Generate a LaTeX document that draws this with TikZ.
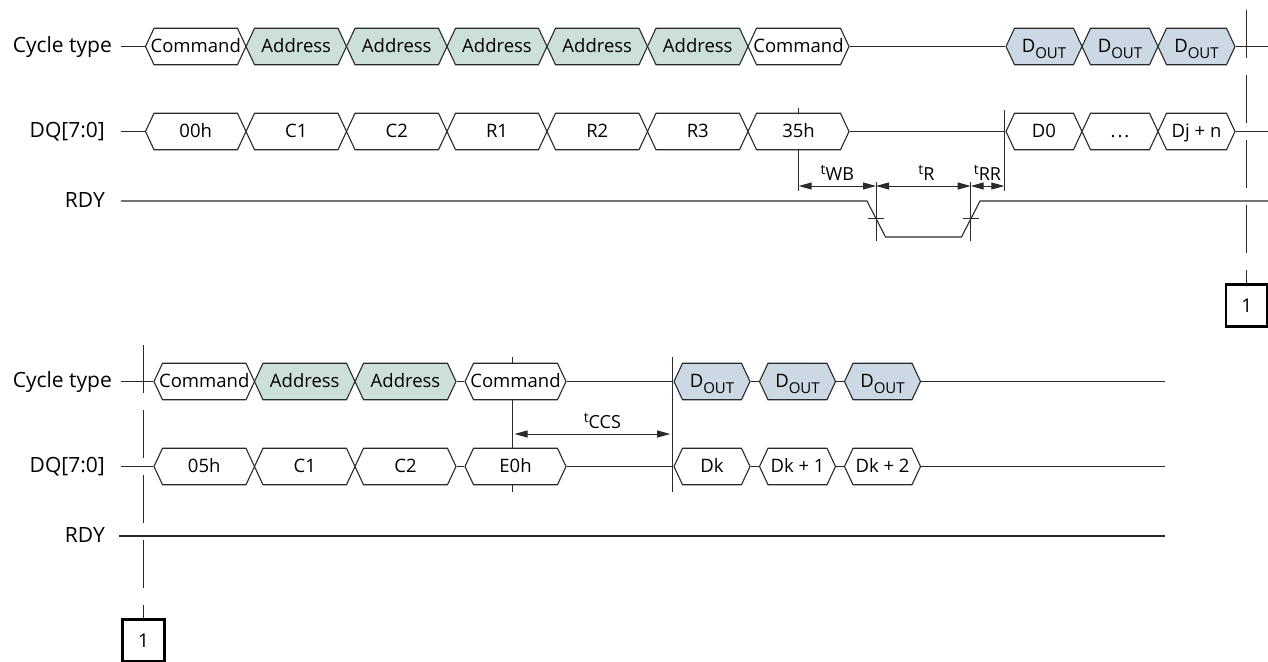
\documentclass[tikz,border=0pt]{standalone}
\usepackage{fontspec}
\setmainfont{Open Sans}
\usetikzlibrary{arrows.meta,shapes.symbols}
\definecolor{addrfill}{HTML}{CCDFDB}
\definecolor{doutfill}{HTML}{CCD9E4}
\definecolor{inkline}{HTML}{2A2A2A}
\newcommand{\dout}{D\raisebox{-6pt}{\fontsize{15}{15}\selectfont OUT}}
\newcommand{\tparam}[1]{\raisebox{5.5pt}{\fontsize{14}{14}\selectfont t}#1}
\tikzset{
  busbox/.style={signal, signal to=west and east, signal pointer angle=130, draw=inkline, line width=1.1pt,
    inner sep=0pt, minimum height=36.5pt, text height=11.6pt, text depth=0pt, font=\fontsize{18.5}{19}\selectfont},
  siglabel/.style={anchor=east, inner ysep=0pt, text height=12pt, text depth=0pt, font=\fontsize{21}{22}\selectfont},
  sigline/.style={draw=inkline, line width=1.1pt},
  markline/.style={draw=inkline, line width=1pt},
  timing/.style={draw=inkline, line width=1pt, {Triangle[length=13pt,width=7pt]}-{Triangle[length=13pt,width=7pt]}},
  timelabel/.style={anchor=base, yshift=6pt, inner sep=0pt, font=\fontsize{18}{19}\selectfont},
  guide/.style={draw=inkline, line width=1pt, dash pattern=on 48pt off 17pt},
  notebox/.style={draw=black, line width=2.6pt, minimum width=41.5pt, minimum height=42.5pt, inner sep=0pt, font=\fontsize{19}{20}\selectfont}
}
\begin{document}
\begin{tikzpicture}[x=1pt,y=-1pt]
  \useasboundingbox (0,0) rectangle (1268,661);

  % first sequence: markers that sit behind the bus
  \draw[markline] (798.7,107.5) coordinate (rtick) -- (798.7,191) coordinate (rbot);

  % first sequence: bus rows
  \foreach \nm/\xa/\xb/\fl/\txt in {
      ca/145.5/246/white/Command, cb/246/346.5/addrfill/Address, cc/346.5/447/addrfill/Address,
      cd/447/547/addrfill/Address, ce/547/647.5/addrfill/Address, cf/647.5/748/addrfill/Address,
      cg/748/849/white/Command, ch/1006/1082/doutfill/\dout, ci/1082/1158/doutfill/\dout, cj/1158/1235/doutfill/\dout} {
    \node[busbox, fill=\fl, minimum width={(\xb-\xa)*1pt}] (\nm) at ({(\xa+\xb)/2},46.5) {\makebox[0pt]{\txt}};
  }
  \foreach \nm/\xa/\xb/\txt in {
      da/145.5/246/00h, db/246/346.5/C1, dc/346.5/447/C2, dd/447/547/R1, de/547/647.5/R2, df/647.5/748/R3,
      dg/748/849/35h, dh/1006/1082/D0, di/1082/1158/.\kern2pt.\kern2pt., dj/1158/1235/Dj + n} {
    \node[busbox, fill=white, minimum width={(\xb-\xa)*1pt}] (\nm) at ({(\xa+\xb)/2},131.5) {\makebox[0pt]{\txt}};
  }

  % first sequence: signal names and wires
  \node[siglabel, inner xsep=9pt] (cyclea) at (121,46.5) {Cycle type};
  \node[siglabel, inner xsep=16pt] (dqa) at (121,131.5) {DQ[7:0]};
  \node[siglabel, inner xsep=16pt] (rdya) at (121,201) {RDY};
  \coordinate (cend) at (1268,46.5);
  \coordinate (dend) at (1268,131.5);
  \draw[sigline] (cyclea.east) -- (ca.west);
  \draw[sigline] (dqa.east) -- (da.west);
  \draw[sigline] (cg.east) -- (ch.west);
  \draw[sigline] (dg.east) -- (dh.west);
  \draw[sigline] (cj.east) -- (cend);
  \draw[sigline] (dj.east) -- (dend);
  \draw[sigline] (rdya.east) -- (867,201) -- (885.5,237) -- (961.5,237) -- (980,201) -- (1268,201);

  % first sequence: timing
  \draw[markline] (1004.3,110) coordinate (dtop) -- (1004.3,191) coordinate (dbot);
  \draw[markline] (876,182) coordinate (wtop) -- (876,241);
  \draw[markline] (970.7,182) coordinate (rtop) -- (970.7,241);
  \draw[markline] (868,218.5) -- (884.3,218.5);
  \draw[markline] (963,218.5) -- (979,218.5);
  \coordinate (wba) at (798.7,186);
  \coordinate (wbb) at (876,186);
  \coordinate (rra) at (970.7,186);
  \coordinate (rrb) at (1004.3,186);
  \draw[timing] (wba) -- (wbb) node[midway, timelabel] (twb) {\tparam{WB}};
  \draw[timing] (wbb) -- (rra) node[midway, timelabel, xshift=3pt] (tr) {\tparam{R}};
  \draw[timing] (rra) -- (rrb) node[midway, timelabel] (trr) {\tparam{RR}};

  % first sequence: page break mark
  \node[notebox] (notea) at (1246.7,305.5) {1};
  \coordinate (guidea) at (1246.7,10);
  \draw[guide] (guidea) -- (notea.north);

  % second sequence: marker behind the bus
  \draw[markline] (512,357) coordinate (etop) -- (512,491.5);

  % second sequence: bus rows
  \foreach \nm/\xa/\xb/\fl/\txt in {
      pa/154/254.5/white/Command, pb/254.5/355/addrfill/Address, pc/355/456/addrfill/Address,
      pd/465/566/white/Command, pe/674/750/doutfill/\dout, pf/759.5/835.5/doutfill/\dout, pg/844.5/920.5/doutfill/\dout} {
    \node[busbox, fill=\fl, minimum width={(\xb-\xa)*1pt}] (\nm) at ({(\xa+\xb)/2},381.5) {\makebox[0pt]{\txt}};
  }
  \foreach \nm/\xa/\xb/\txt in {
      qa/154/254.5/05h, qb/254.5/355/C1, qc/355/456/C2,
      qd/465/566/E0h, qe/674/750/Dk, qf/759.5/835.5/Dk + 1, qg/844.5/920.5/Dk + 2} {
    \node[busbox, fill=white, minimum width={(\xb-\xa)*1pt}] (\nm) at ({(\xa+\xb)/2},466.5) {\makebox[0pt]{\txt}};
  }

  % second sequence: signal names and wires
  \node[siglabel, inner xsep=9pt] (cycleb) at (121,381.5) {Cycle type};
  \node[siglabel, inner xsep=16pt] (dqb) at (121,466.5) {DQ[7:0]};
  \node[siglabel, inner xsep=14pt] (rdyb) at (119,536) {RDY};
  \coordinate (pend) at (1165,381.5);
  \coordinate (qend) at (1165,466.5);
  \coordinate (rend) at (1165,536);
  \draw[sigline] (cycleb.east) -- (pa.west);
  \draw[sigline] (dqb.east) -- (qa.west);
  \draw[sigline] (rdyb.east) -- (rend);
  \draw[sigline] (pc.east) -- (pd.west);
  \draw[sigline] (qc.east) -- (qd.west);
  \draw[sigline] (pd.east) -- (pe.west);
  \draw[sigline] (qd.east) -- (qe.west);
  \draw[sigline] (pe.east) -- (pf.west);
  \draw[sigline] (pf.east) -- (pg.west);
  \draw[sigline] (qe.east) -- (qf.west);
  \draw[sigline] (qf.east) -- (qg.west);
  \draw[sigline] (pg.east) -- (pend);
  \draw[sigline] (qg.east) -- (qend);

  % second sequence: timing
  \draw[markline] (672.7,357) coordinate (ftop) -- (672.7,492);
  \coordinate (ccsa) at (512,434);
  \coordinate (ccsb) at (672.7,434);
  \draw[timing, shorten <=2.5pt, shorten >=2.5pt] (ccsa) -- (ccsb) node[midway, timelabel, xshift=10pt] (tccs) {\tparam{CCS}};

  % second sequence: page break mark
  \node[notebox] (noteb) at (143.5,640.5) {1};
  \coordinate (guideb) at (143.5,345);
  \draw[guide] (guideb) -- (noteb.north);
\end{tikzpicture}
\end{document}
